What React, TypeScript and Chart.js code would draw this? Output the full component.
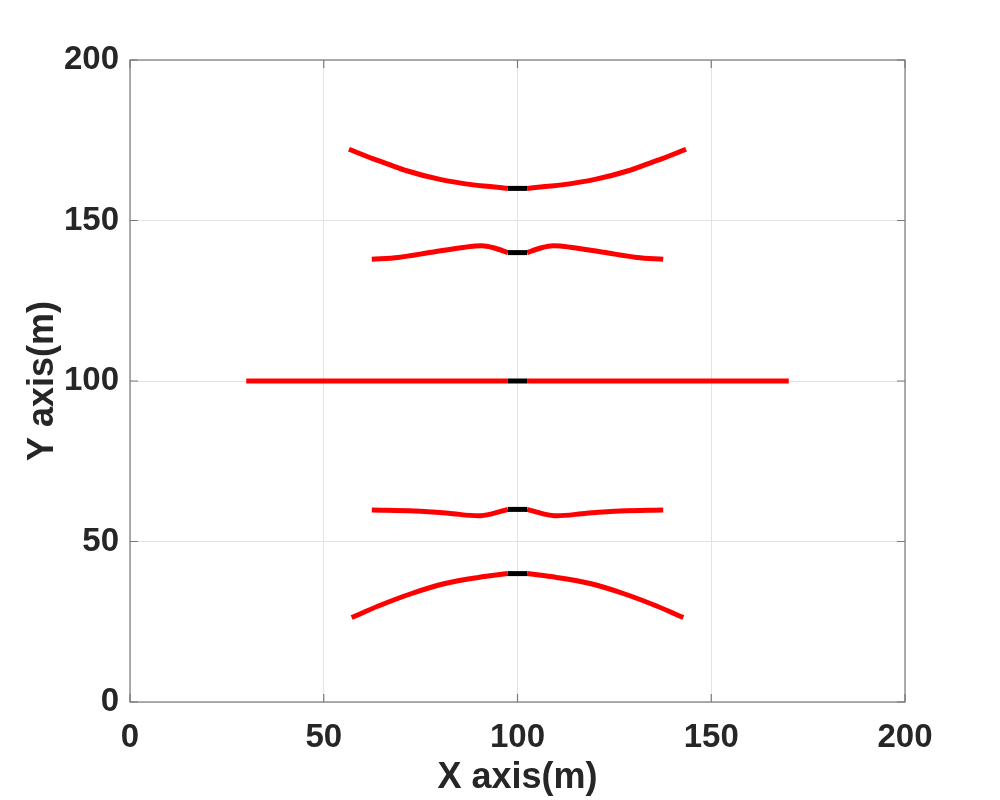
import React, { useEffect, useRef } from 'react';
import { Chart, registerables } from 'chart.js';

Chart.register(...registerables);

// Axis tick values
const xTicks = [0, 50, 100, 150, 200];
const yTicks = [0, 50, 100, 150, 200];

// Red curves (x, y) in metres, left and right halves
const curve1Left = [[56.5, 172.2], [62.8, 169.2], [67.0, 167.4], [71.4, 165.5], [80.0, 162.8], [88.6, 161.1], [92.9, 160.6], [97.5, 160.0]];
const curve1Right = [[102.5, 160.0], [107.1, 160.6], [111.4, 161.1], [120.0, 162.8], [128.6, 165.5], [133.0, 167.4], [137.2, 169.2], [143.5, 172.2]];

const curve2Left = [[62.4, 137.9], [69.2, 138.5], [77.8, 140.1], [86.5, 141.7], [90.8, 142.1], [93.8, 141.5], [97.5, 140.0]];
const curve2Right = [[102.5, 140.0], [106.2, 141.5], [109.2, 142.1], [113.5, 141.7], [122.2, 140.1], [130.8, 138.5], [137.6, 137.9]];

const curve3Left = [[30.0, 100.0], [97.5, 100.0]];
const curve3Right = [[102.5, 100.0], [170.0, 100.0]];

const curve4Left = [[62.4, 59.8], [73.5, 59.5], [82.2, 58.8], [89.9, 58.0], [93.3, 58.6], [97.5, 60.0]];
const curve4Right = [[102.5, 60.0], [106.7, 58.6], [110.1, 58.0], [117.8, 58.8], [126.5, 59.5], [137.6, 59.8]];

const curve5Left = [[57.2, 26.3], [64.1, 29.9], [72.7, 33.8], [81.3, 36.9], [89.9, 38.8], [97.5, 40.0]];
const curve5Right = [[102.5, 40.0], [110.1, 38.8], [118.7, 36.9], [127.3, 33.8], [135.9, 29.9], [142.8, 26.3]];

// Black segments
const segmentX = [97.5, 102.5];
const segmentY = [40, 60, 100, 140, 160];

const FONT = "'Liberation Sans', Arial, Helvetica, sans-serif";
const TEXT = '#262626';

const toPts = (arr: number[][]) => arr.map(([x, y]) => ({ x, y }));

export default function App() {
  const ref = useRef<HTMLCanvasElement | null>(null);

  useEffect(() => {
    document.body.style.margin = '0';
    if (!ref.current) return;

    const boxPlugin = {
      id: 'matlabBox',
      afterDatasetsDraw(chart: any) {
        const { ctx, chartArea: a, scales } = chart;
        ctx.save();
        ctx.strokeStyle = '#7a7a7a';
        ctx.lineWidth = 1.2;
        ctx.strokeRect(a.left, a.top, a.right - a.left, a.bottom - a.top);
        const tl = 8;
        ctx.beginPath();
        for (const v of xTicks) {
          const px = scales.x.getPixelForValue(v);
          ctx.moveTo(px, a.bottom);
          ctx.lineTo(px, a.bottom - tl);
          ctx.moveTo(px, a.top);
          ctx.lineTo(px, a.top + tl);
        }
        for (const v of yTicks) {
          const py = scales.y.getPixelForValue(v);
          ctx.moveTo(a.left, py);
          ctx.lineTo(a.left + tl, py);
          ctx.moveTo(a.right, py);
          ctx.lineTo(a.right - tl, py);
        }
        ctx.stroke();
        ctx.restore();
      },
    };

    const redCurves = [curve1Left, curve1Right, curve2Left, curve2Right, curve3Left, curve3Right, curve4Left, curve4Right, curve5Left, curve5Right];

    const blackSets = segmentY.map((y) => ({
      data: segmentX.map((x) => ({ x, y })),
      borderColor: '#000000',
      borderWidth: 5,
      borderCapStyle: 'butt' as const,
      showLine: true,
      pointRadius: 0,
      tension: 0,
    }));

    const redSets = redCurves.map((c) => ({
      data: toPts(c),
      borderColor: '#ff0000',
      borderWidth: 5,
      borderCapStyle: 'butt' as const,
      showLine: true,
      pointRadius: 0,
      cubicInterpolationMode: 'monotone' as const,
    }));

    const chart = new Chart(ref.current, {
      type: 'scatter',
      data: { datasets: [...blackSets, ...redSets] as any },
      options: {
        animation: false,
        responsive: false,
        devicePixelRatio: 1,
        layout: { padding: { left: 0, top: 60, right: 95, bottom: 0 } },
        plugins: { legend: { display: false }, tooltip: { enabled: false } },
        scales: {
          x: {
            type: 'linear',
            min: 0,
            max: 200,
            afterBuildTicks: (scale: any) => {
              scale.ticks = xTicks.map((v) => ({ value: v }));
            },
            afterFit: (scale: any) => {
              scale.height = 98;
            },
            ticks: {
              font: { family: FONT, size: 33, weight: 'bold' },
              color: TEXT,
              padding: 16,
              maxRotation: 0,
            },
            grid: { color: '#e3e3e3', lineWidth: 1, drawTicks: false },
            border: { display: false },
            title: {
              display: true,
              text: 'X axis(m)',
              font: { family: FONT, size: 36, weight: 'bold' },
              color: TEXT,
              padding: { top: 0, bottom: 0 },
            },
          },
          y: {
            type: 'linear',
            min: 0,
            max: 200,
            afterBuildTicks: (scale: any) => {
              scale.ticks = yTicks.map((v) => ({ value: v }));
            },
            afterFit: (scale: any) => {
              scale.width = 130;
            },
            ticks: {
              font: { family: FONT, size: 33, weight: 'bold' },
              color: TEXT,
              padding: 11,
            },
            grid: { color: '#e3e3e3', lineWidth: 1, drawTicks: false },
            border: { display: false },
            title: {
              display: true,
              text: 'Y axis(m)',
              font: { family: FONT, size: 36, weight: 'bold' },
              color: TEXT,
              padding: { top: 21, bottom: 0 },
            },
          },
        },
      },
      plugins: [boxPlugin],
    });

    return () => chart.destroy();
  }, []);

  return (
    <div style={{ width: 1000, height: 800, position: 'relative', background: '#ffffff' }}>
      <canvas ref={ref} width={1000} height={800} style={{ display: 'block' }} />
    </div>
  );
}
